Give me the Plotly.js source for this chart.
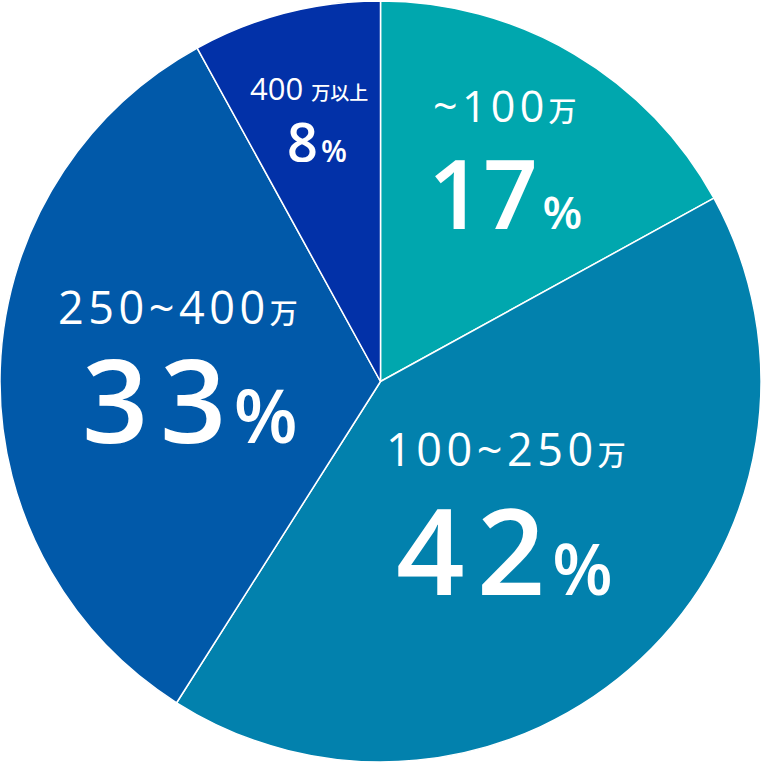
<!DOCTYPE html>
<html><head><meta charset="utf-8">
<script src="https://cdn.plot.ly/plotly-3.0.1.min.js"></script>
<style>html,body{margin:0;padding:0;background:#fff}</style>
</head><body><div id="chart" style="width:761px;height:763px"></div>
<script>
const rangeText = ['~100', '100~250', '250~400', '400'];
const unitText = ['万', '万', '万', '万以上'];
const values = [17, 42, 33, 8];
const colors = ['#00a7ae', '#0281ad', '#0159a9', '#0231a8'];

// label placement (pixels) and font sizes: style only
const labelPos = [[505, 106], [506, 449], [178, 306], [309, 88]];
const pctPos = [[505, 192], [504, 548], [190, 398], [317, 140]];
const labelSize = [43, 45, 45, 31];
const unitSize = [28, 28, 28, 19];
const labelSpaced = [true, true, true, false];
const numSize = [96, 120, 116, 54];
const pctSize = [46, 70, 74, 30];
const numSpaced = [false, true, true, false];

const W = 761, H = 763;
const HAIR = '\u200A';
const annotations = [];
const FONT = 'Open Sans, Noto Sans CJK JP, sans-serif';
values.forEach((v, i) => {
  const lbl = labelSpaced[i] ? rangeText[i].split('').join(HAIR) + HAIR : rangeText[i] + '\u00A0';
  annotations.push({
    xref: 'paper', yref: 'paper', x: labelPos[i][0] / W, y: 1 - labelPos[i][1] / H,
    xanchor: 'center', yanchor: 'middle', showarrow: false,
    height: Math.round(labelSize[i] * 0.95),
    text: lbl + '<span style="font-size:' + unitSize[i] + 'px;font-family:Noto Sans CJK JP">' + unitText[i] + '</span>',
    font: {family: FONT, size: labelSize[i], color: '#ffffff', weight: 500}
  });
  const num = numSpaced[i] ? String(v).split('').join(HAIR) : String(v);
  annotations.push({
    xref: 'paper', yref: 'paper', x: pctPos[i][0] / W, y: 1 - pctPos[i][1] / H,
    xanchor: 'center', yanchor: 'middle', showarrow: false,
    height: Math.round(numSize[i] * 0.8),
    text: num + '<span style="font-size:' + pctSize[i] + 'px">' + HAIR + '%</span>',
    font: {family: FONT, size: numSize[i], color: '#ffffff', weight: 600}
  });
});

Plotly.newPlot('chart', [{
  type: 'pie',
  values: values,
  labels: rangeText.map((r, i) => r + unitText[i]),
  sort: false,
  direction: 'clockwise',
  rotation: 0,
  textinfo: 'none',
  hoverinfo: 'none',
  marker: {colors: colors, line: {color: '#ffffff', width: 1.5}},
  domain: {x: [0, 1], y: [0, 1]}
}], {
  width: W, height: H,
  margin: {l: 0, r: 0, t: 0, b: 0},
  paper_bgcolor: '#ffffff',
  showlegend: false,
  annotations: annotations
}, {displayModeBar: false, staticPlot: true});
</script></body></html>
